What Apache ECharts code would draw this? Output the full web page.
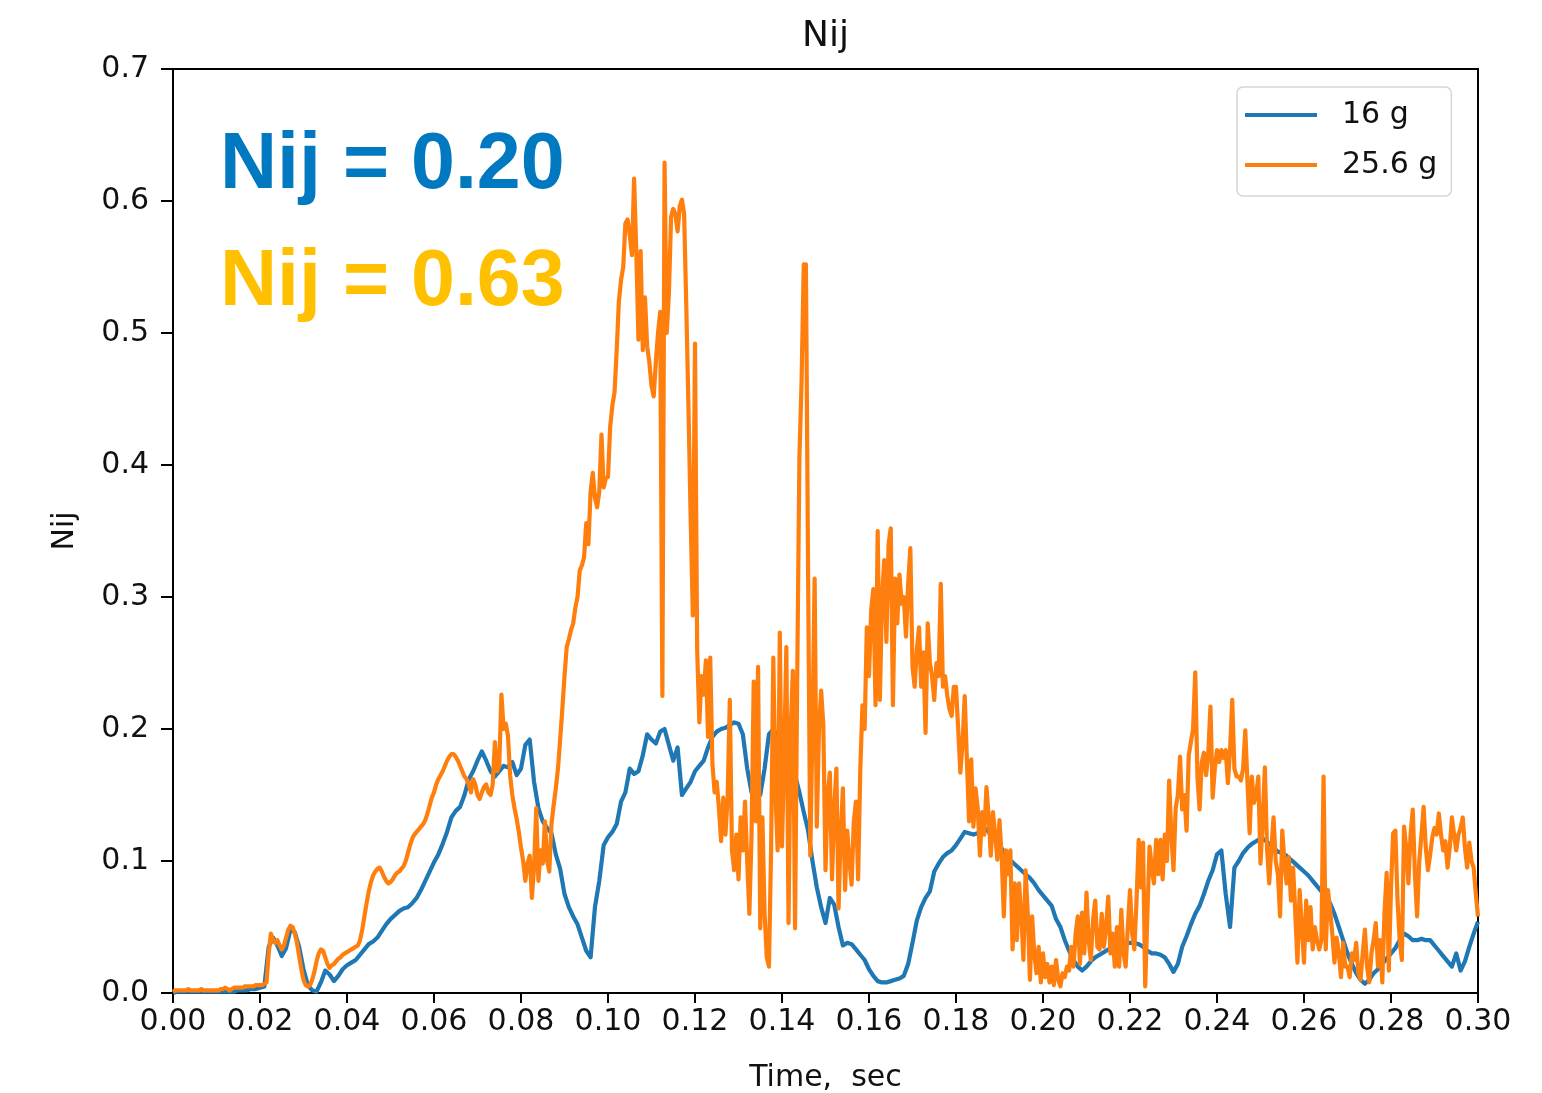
<!DOCTYPE html>
<html>
<head>
<meta charset="utf-8">
<title>Nij</title>
<script src="https://cdn.jsdelivr.net/npm/echarts@6/dist/echarts.min.js"></script>
<style>
  html, body { margin: 0; padding: 0; background: #fff; }
  #chart { width: 1542px; height: 1093px; }
</style>
</head>
<body>
<div id="chart"></div>
<script>
// sample steps (sec)
var blueStep = 0.001;
var orangeStep = 0.0005;

// 16 g, one value per 1 ms (10 per row)
var nij16 = [
  0.000,0.001,0.001,0.001,0.001,0.001,0.001,0.001,0.001,0.001,
  0.001,0.001,0.001,0.001,0.001,0.002,0.002,0.002,0.003,0.003,
  0.004,0.005,0.035,0.042,0.036,0.028,0.034,0.048,0.046,0.035,
  0.018,0.006,0.002,0.001,0.008,0.017,0.014,0.009,0.013,0.018,
  0.021,0.023,0.025,0.029,0.033,0.037,0.039,0.042,0.047,0.052,
  0.056,0.059,0.062,0.064,0.065,0.068,0.072,0.078,0.085,0.092,
  0.099,0.105,0.113,0.122,0.133,0.138,0.141,0.150,0.162,0.168,
  0.176,0.183,0.176,0.168,0.164,0.168,0.172,0.171,0.175,0.165,
  0.170,0.188,0.192,0.160,0.140,0.130,0.125,0.121,0.105,0.094,
  0.075,0.065,0.058,0.052,0.042,0.032,0.027,0.065,0.085,0.112,
  0.118,0.122,0.128,0.145,0.152,0.170,0.166,0.168,0.180,0.196,
  0.192,0.189,0.198,0.200,0.188,0.176,0.186,0.150,0.155,0.160,
  0.168,0.172,0.176,0.186,0.194,0.198,0.200,0.201,0.203,0.205,
  0.204,0.196,0.170,0.152,0.149,0.150,0.170,0.196,0.200,0.195,
  0.190,0.185,0.178,0.165,0.152,0.137,0.123,0.100,0.080,0.065,
  0.053,0.072,0.067,0.050,0.036,0.038,0.037,0.033,0.029,0.025,
  0.018,0.013,0.009,0.008,0.008,0.009,0.010,0.011,0.013,0.022,
  0.038,0.055,0.065,0.072,0.077,0.092,0.098,0.103,0.106,0.108,
  0.112,0.117,0.122,0.121,0.120,0.121,0.125,0.124,0.120,0.116,
  0.112,0.107,0.102,0.099,0.096,0.093,0.090,0.087,0.083,0.078,
  0.074,0.070,0.066,0.056,0.050,0.040,0.032,0.025,0.020,0.017,
  0.020,0.024,0.027,0.029,0.031,0.033,0.035,0.037,0.038,0.038,
  0.038,0.038,0.037,0.035,0.032,0.030,0.030,0.029,0.027,0.022,
  0.016,0.022,0.035,0.043,0.052,0.060,0.066,0.075,0.085,0.093,
  0.105,0.108,0.075,0.050,0.095,0.100,0.106,0.110,0.113,0.115,
  0.117,0.116,0.113,0.110,0.107,0.106,0.104,0.101,0.098,0.095,
  0.092,0.089,0.085,0.081,0.077,0.073,0.068,0.060,0.050,0.040,
  0.030,0.022,0.015,0.010,0.007,0.010,0.015,0.018,0.022,0.026,
  0.030,0.034,0.040,0.045,0.043,0.040,0.040,0.041,0.040,0.040,
  0.036,0.032,0.028,0.024,0.020,0.030,0.017,0.024,0.035,0.045,
  0.054
];

// 25.6 g, one value per 0.5 ms (20 per row = 10 ms)
var nij256 = [
  0.001,0.002,0.002,0.002,0.002,0.002,0.002,0.003,0.002,0.002,0.002,0.002,0.002,0.003,0.002,0.002,0.002,0.002,0.002,0.002,
  0.002,0.002,0.003,0.003,0.004,0.003,0.002,0.003,0.004,0.004,0.004,0.004,0.004,0.005,0.005,0.005,0.005,0.005,0.006,0.006,
  0.006,0.006,0.007,0.008,0.030,0.045,0.040,0.038,0.040,0.036,0.033,0.036,0.042,0.048,0.051,0.050,0.045,0.038,0.028,0.018,
  0.010,0.006,0.005,0.006,0.010,0.016,0.024,0.030,0.033,0.032,0.027,0.022,0.019,0.021,0.022,0.024,0.026,0.027,0.029,0.030,
  0.031,0.032,0.033,0.034,0.035,0.036,0.040,0.048,0.058,0.068,0.077,0.084,0.089,0.092,0.094,0.095,0.092,0.088,0.085,0.083,
  0.084,0.086,0.089,0.091,0.092,0.094,0.096,0.100,0.106,0.112,0.117,0.120,0.122,0.124,0.126,0.128,0.131,0.136,0.142,0.148,
  0.152,0.158,0.162,0.165,0.168,0.172,0.176,0.179,0.181,0.181,0.179,0.176,0.172,0.168,0.164,0.162,0.158,0.152,0.162,0.158,
  0.150,0.147,0.152,0.156,0.158,0.152,0.150,0.158,0.190,0.168,0.172,0.226,0.200,0.204,0.195,0.165,0.150,0.140,0.132,0.122,
  0.110,0.100,0.085,0.098,0.104,0.072,0.095,0.140,0.085,0.108,0.098,0.130,0.100,0.092,0.128,0.142,0.155,0.170,0.192,0.215,
  0.240,0.262,0.268,0.275,0.280,0.292,0.300,0.320,0.324,0.330,0.356,0.340,0.380,0.394,0.375,0.368,0.380,0.423,0.383,0.390,
  0.391,0.429,0.445,0.455,0.487,0.524,0.540,0.550,0.583,0.586,0.574,0.559,0.617,0.562,0.495,0.562,0.487,0.527,0.490,0.478,
  0.460,0.452,0.478,0.500,0.516,0.225,0.629,0.500,0.530,0.588,0.594,0.590,0.577,0.596,0.601,0.590,0.520,0.443,0.360,0.286,
  0.492,0.260,0.205,0.240,0.226,0.252,0.194,0.254,0.174,0.152,0.160,0.140,0.115,0.148,0.120,0.148,0.222,0.108,0.093,0.120,
  0.086,0.133,0.108,0.145,0.100,0.060,0.120,0.236,0.130,0.247,0.049,0.133,0.060,0.027,0.020,0.110,0.254,0.150,0.108,0.273,
  0.111,0.180,0.262,0.053,0.200,0.244,0.049,0.240,0.405,0.463,0.552,0.552,0.317,0.104,0.200,0.314,0.126,0.199,0.229,0.203,
  0.093,0.150,0.167,0.086,0.140,0.170,0.064,0.120,0.155,0.078,0.123,0.100,0.082,0.130,0.145,0.086,0.170,0.218,0.200,0.277,
  0.240,0.290,0.306,0.218,0.350,0.222,0.300,0.328,0.266,0.340,0.352,0.218,0.314,0.280,0.317,0.295,0.300,0.270,0.310,0.337,
  0.247,0.232,0.260,0.277,0.232,0.258,0.197,0.280,0.250,0.240,0.222,0.250,0.240,0.310,0.232,0.240,0.225,0.215,0.210,0.232,
  0.232,0.200,0.167,0.189,0.225,0.177,0.130,0.177,0.126,0.155,0.140,0.104,0.137,0.120,0.156,0.134,0.104,0.137,0.120,0.101,
  0.131,0.103,0.058,0.108,0.090,0.108,0.033,0.083,0.040,0.083,0.060,0.025,0.093,0.060,0.010,0.058,0.030,0.015,0.035,0.008,
  0.030,0.012,0.022,0.008,0.020,0.006,0.025,0.010,0.005,0.015,0.012,0.020,0.017,0.035,0.020,0.045,0.058,0.022,0.061,0.030,
  0.076,0.040,0.025,0.055,0.070,0.035,0.033,0.060,0.035,0.050,0.073,0.030,0.045,0.020,0.050,0.020,0.063,0.030,0.020,0.050,
  0.078,0.045,0.033,0.070,0.116,0.080,0.114,0.005,0.060,0.111,0.095,0.083,0.116,0.090,0.116,0.086,0.120,0.100,0.161,0.120,
  0.093,0.140,0.150,0.179,0.139,0.150,0.123,0.180,0.190,0.200,0.243,0.164,0.139,0.175,0.182,0.165,0.182,0.217,0.148,0.170,
  0.184,0.175,0.184,0.178,0.184,0.159,0.184,0.222,0.170,0.164,0.164,0.161,0.170,0.199,0.160,0.121,0.164,0.144,0.150,0.164,
  0.098,0.130,0.171,0.110,0.083,0.110,0.133,0.100,0.090,0.058,0.123,0.100,0.083,0.103,0.070,0.095,0.060,0.023,0.078,0.050,
  0.023,0.070,0.040,0.065,0.033,0.050,0.040,0.033,0.040,0.164,0.033,0.078,0.063,0.045,0.023,0.042,0.030,0.012,0.038,0.020,
  0.020,0.012,0.030,0.025,0.038,0.015,0.010,0.030,0.048,0.020,0.008,0.030,0.040,0.053,0.020,0.040,0.008,0.060,0.091,0.017,
  0.080,0.121,0.123,0.070,0.040,0.025,0.126,0.110,0.083,0.120,0.139,0.090,0.058,0.100,0.120,0.141,0.110,0.093,0.105,0.118,
  0.125,0.120,0.136,0.120,0.108,0.115,0.095,0.110,0.133,0.120,0.108,0.120,0.125,0.133,0.110,0.095,0.114,0.100,0.095,0.075,
  0.058
];

var seriesNames = ['16 g', '25.6 g'];
var seriesColors = ['#1f77b4', '#ff7f0e'];
var peakLabels = ['Nij = 0.20', 'Nij = 0.63'];
var peakColors = ['#0079c1', '#ffc000'];

function toPairs(values, step) {
  var out = [];
  for (var i = 0; i < values.length; i++) {
    out.push([+(i * step).toFixed(4), values[i]]);
  }
  return out;
}

var chart = echarts.init(document.getElementById('chart'), null, { renderer: 'canvas' });
var mpl = 'DejaVu Sans';

var option = {
  animation: false,
  backgroundColor: '#fff',
  grid: {
    left: 173, top: 69, width: 1305, height: 924,
    outerBoundsMode: 'none', containLabel: false,
    show: true, borderColor: '#000', borderWidth: 2, backgroundColor: 'transparent'
  },
  legend: {
    orient: 'vertical',
    left: 1237, top: 87,
    data: seriesNames.map(function (n) { return { name: n, icon: 'rect' }; }),
    itemWidth: 72, itemHeight: 4, itemGap: 20,
    padding: [13, 14, 16, 8],
    backgroundColor: '#fff',
    borderColor: '#d6d6d6', borderWidth: 1.5, borderRadius: 6,
    textStyle: { fontFamily: mpl, fontSize: 30, color: '#111', padding: [0, 0, 0, 20] }
  },
  xAxis: {
    type: 'value', min: 0, max: 0.3, interval: 0.02,
    name: 'Time,  sec', nameLocation: 'middle', nameGap: 70,
    nameTextStyle: { fontFamily: mpl, fontSize: 30, color: '#111' },
    axisLine: { lineStyle: { color: '#000', width: 2 } },
    axisTick: { inside: false, length: 10, lineStyle: { color: '#000', width: 2 } },
    axisLabel: { fontFamily: mpl, fontSize: 30, color: '#111', margin: 14,
      formatter: function (v) { return v.toFixed(2); } },
    splitLine: { show: false }
  },
  yAxis: {
    type: 'value', min: 0, max: 0.7, interval: 0.1,
    name: 'Nij', nameLocation: 'middle', nameGap: 93,
    nameTextStyle: { fontFamily: mpl, fontSize: 30, color: '#111' },
    axisLine: { show: true, lineStyle: { color: '#000', width: 2 } },
    axisTick: { show: true, inside: false, length: 12, lineStyle: { color: '#000', width: 2 } },
    axisLabel: { fontFamily: mpl, fontSize: 30, color: '#111', margin: 24,
      formatter: function (v) { return v.toFixed(1); } },
    splitLine: { show: false }
  },
  graphic: [
    { type: 'text', x: 825.5, y: 37,
      style: { text: 'Nij', fill: '#111', font: '36px "DejaVu Sans"', textAlign: 'center', textVerticalAlign: 'middle' } },
    { type: 'text', x: 220, y: 166,
      style: { text: peakLabels[0], fill: peakColors[0], font: 'bold 79px "Liberation Sans"', textVerticalAlign: 'middle' } },
    { type: 'text', x: 220, y: 283,
      style: { text: peakLabels[1], fill: peakColors[1], font: 'bold 79px "Liberation Sans"', textVerticalAlign: 'middle' } }
  ],
  series: [
    {
      name: seriesNames[0], type: 'line', showSymbol: false, sampling: null,
      data: toPairs(nij16, blueStep),
      lineStyle: { color: seriesColors[0], width: 4.2, join: 'round' },
      itemStyle: { color: seriesColors[0] },
      z: 2
    },
    {
      name: seriesNames[1], type: 'line', showSymbol: false, sampling: null,
      data: toPairs(nij256, orangeStep),
      lineStyle: { color: seriesColors[1], width: 4.2, join: 'round' },
      itemStyle: { color: seriesColors[1] },
      z: 3
    }
  ]
};

chart.setOption(option);
</script>
</body>
</html>
